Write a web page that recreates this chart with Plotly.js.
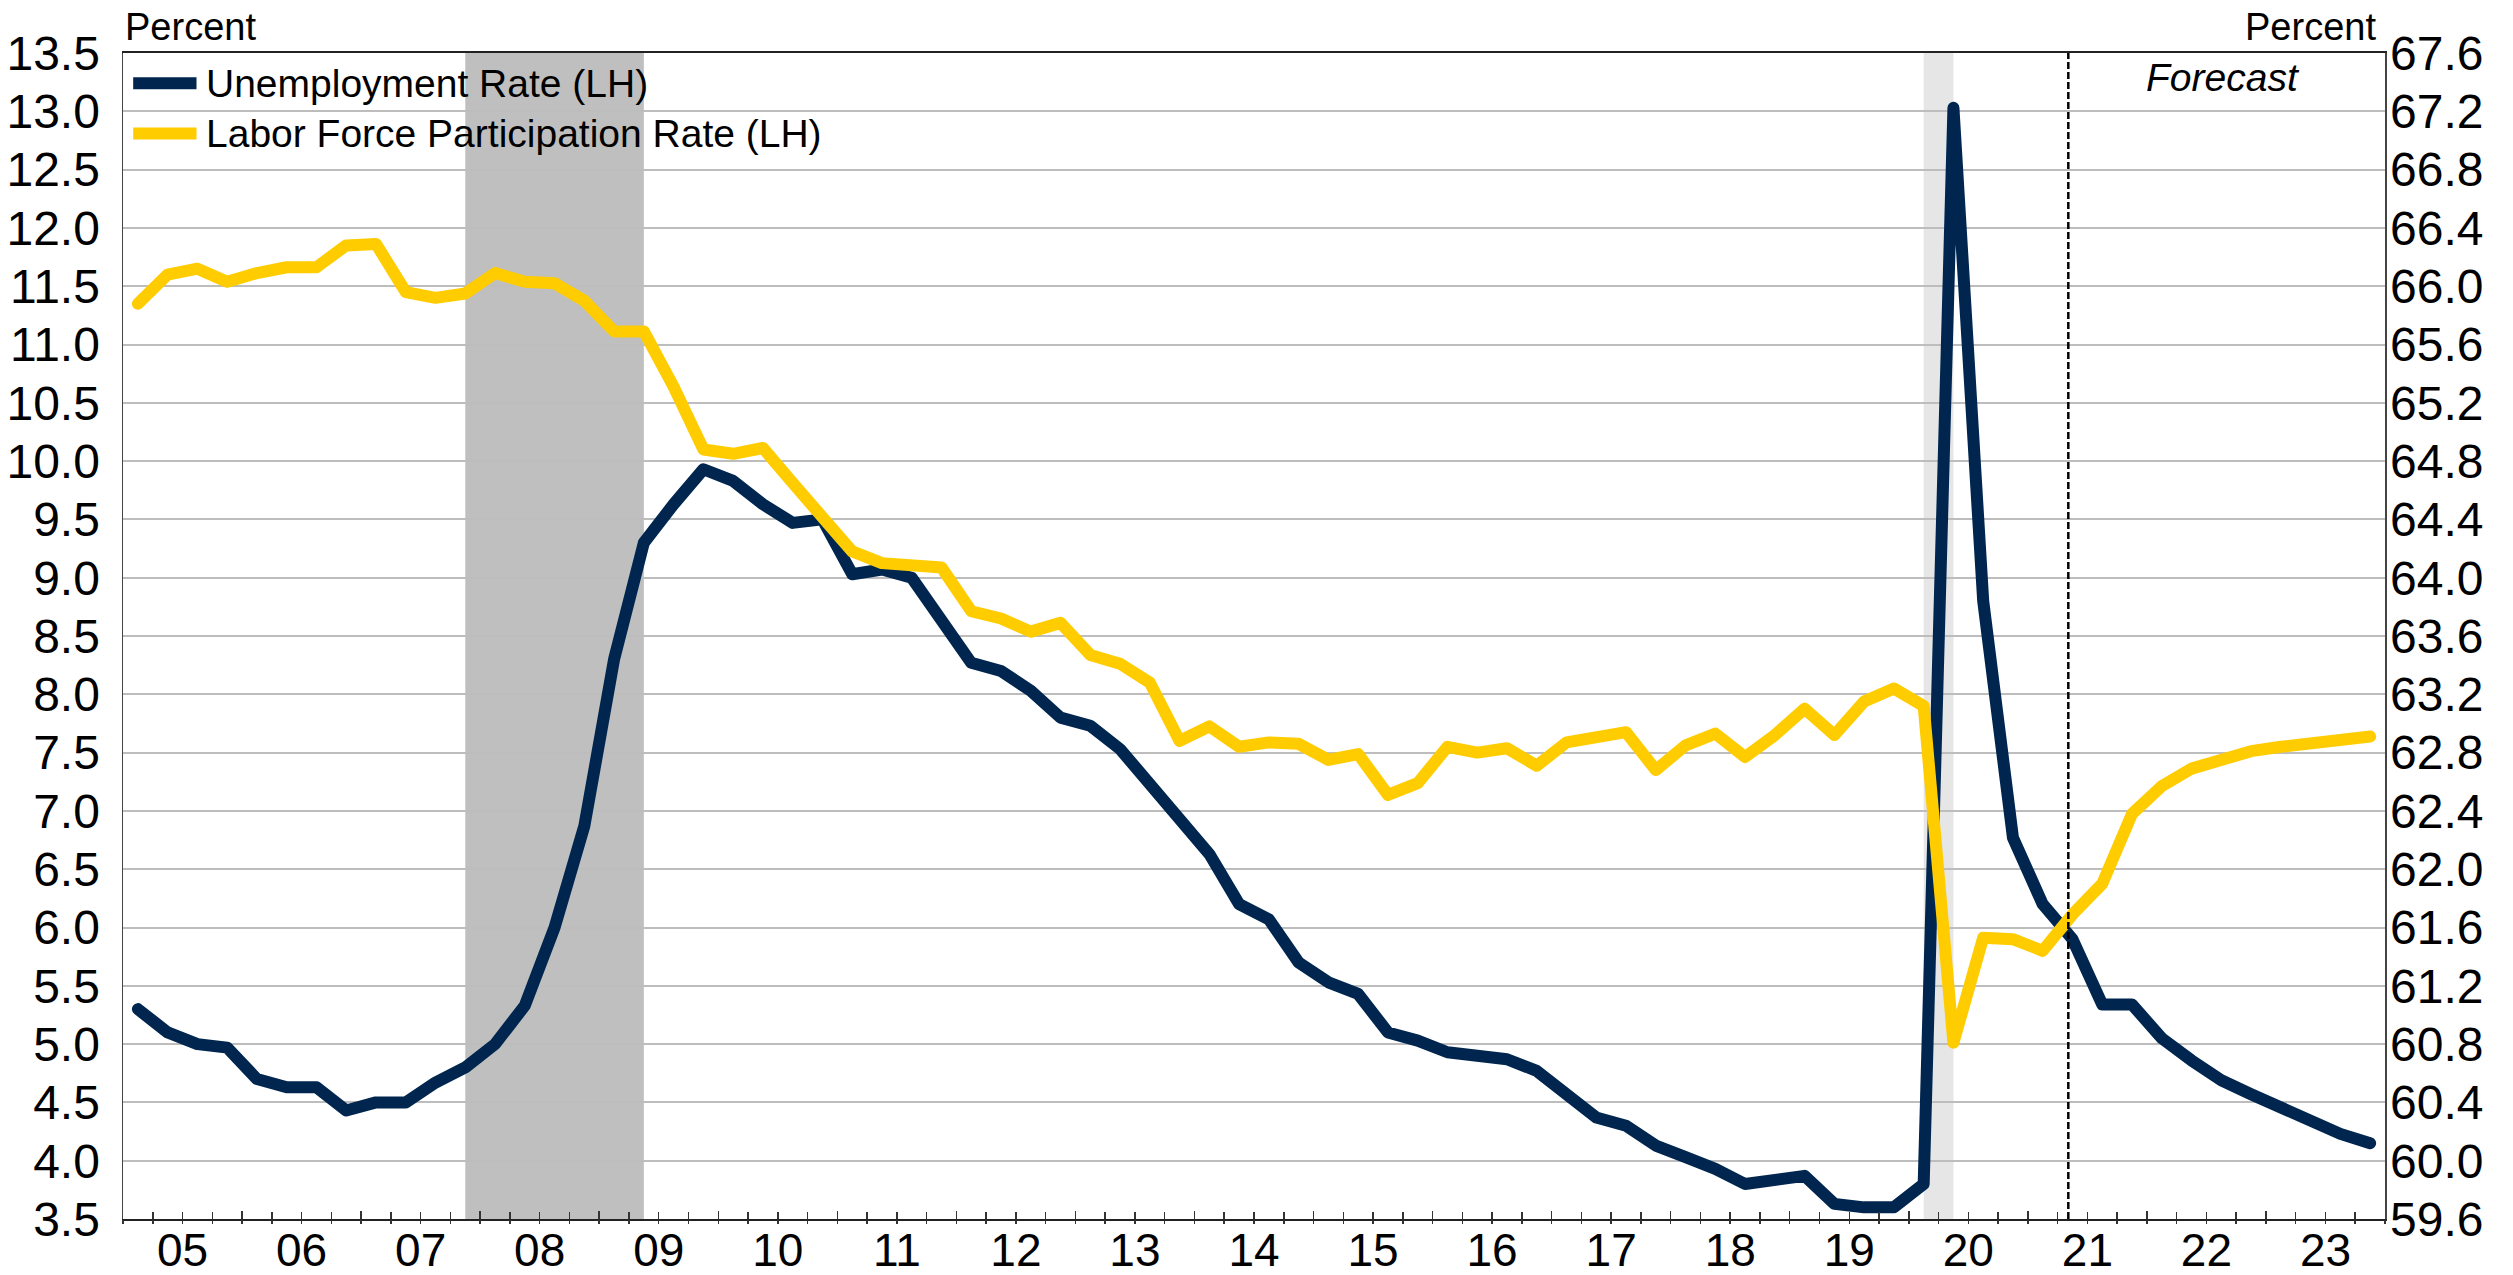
<!DOCTYPE html>
<html>
<head>
<meta charset="utf-8">
<script src="https://cdn.plot.ly/plotly-3.0.1.min.js"></script>
<style>
  html, body { margin: 0; padding: 0; background: #ffffff; }
  #chart { width: 2513px; height: 1275px; }
  path.js-line { stroke-linejoin: round; stroke-linecap: round; }
</style>
</head>
<body>
<div id="chart"></div>
<script>
// ---------------- DATA ----------------
const startYear = 2005;
const endYear = 2023;

// Quarterly unemployment rate, percent (left axis), 2005Q1 - 2023Q4
const unemploymentRate = [
  5.3, 5.1, 5.0, 4.97,
  4.7, 4.63, 4.63, 4.43,
  4.5, 4.5, 4.67, 4.8,
  5.0, 5.33, 6.0, 6.87,
  8.3, 9.3, 9.63, 9.93,
  9.83, 9.63, 9.47, 9.5,
  9.03, 9.07, 9.0, 8.63,
  8.27, 8.2, 8.03, 7.8,
  7.73, 7.53, 7.23, 6.93,
  6.63, 6.2, 6.07, 5.7,
  5.53, 5.43, 5.1, 5.03,
  4.93, 4.9, 4.87, 4.77,
  4.57, 4.37, 4.3, 4.13,
  4.03, 3.93, 3.8, 3.83,
  3.87, 3.63, 3.6, 3.6,
  3.8, 13.03, 8.8, 6.77,
  6.2, 5.9, 5.34, 5.34,
  5.05, 4.86, 4.69, 4.57,
  4.46, 4.34, 4.23, 4.15
];

// Quarterly labor force participation rate, percent (right axis)
const participationRate = [
  65.88, 66.08, 66.12, 66.03,
  66.09, 66.13, 66.13, 66.28,
  66.29, 65.96, 65.92, 65.95,
  66.09, 66.03, 66.02, 65.9,
  65.69, 65.69, 65.31, 64.88,
  64.85, 64.89, 64.65, 64.42,
  64.18, 64.1, 64.09, 64.07,
  63.77, 63.72, 63.63, 63.69,
  63.47, 63.41, 63.28, 62.88,
  62.98, 62.84, 62.87, 62.86,
  62.75, 62.79, 62.51, 62.59,
  62.84, 62.8, 62.83, 62.71,
  62.87, 62.9, 62.94, 62.68,
  62.85, 62.93, 62.77, 62.92,
  63.1, 62.92, 63.15, 63.24,
  63.12, 60.81, 61.53, 61.52,
  61.44, 61.69, 61.9, 62.38,
  62.57, 62.69, 62.76, 62.81,
  62.84, 62.86, 62.88, 62.91
];

const seriesNames = ['Unemployment Rate (LH)', 'Labor Force Participation Rate (LH)'];
const seriesColors = ['#00264f', '#ffcc00'];

const yearLabels = ['05','06','07','08','09','10','11','12','13','14','15','16','17','18','19','20','21','22','23'];

const leftTicks = [3.5,4.0,4.5,5.0,5.5,6.0,6.5,7.0,7.5,8.0,8.5,9.0,9.5,10.0,10.5,11.0,11.5,12.0,12.5,13.0,13.5];
const rightTicks = [59.6,60.0,60.4,60.8,61.2,61.6,62.0,62.4,62.8,63.2,63.6,64.0,64.4,64.8,65.2,65.6,66.0,66.4,66.8,67.2,67.6];

// Shaded periods (quarter labels) and forecast start
const recessions = [
  { start: '2007Q4', end: '2009Q2', color: '#bfbfbf' },
  { start: '2020Q1', end: '2020Q2', color: '#e6e6e6' }
];
const forecastStart = 2021.34;
const forecastLabel = 'Forecast';
const axisUnit = 'Percent';

// ---------------- BUILD ----------------
const quarterLabels = [];
for (let y = startYear; y <= endYear; y++) for (let q = 1; q <= 4; q++) quarterLabels.push(y + 'Q' + q);
const qToX = lbl => parseInt(lbl.slice(0, 4), 10) + (parseInt(lbl.slice(5), 10) - 0.5) / 4;
const xVals = quarterLabels.map(qToX);

const yearBounds = [];
for (let y = startYear; y <= endYear + 1; y++) yearBounds.push(y);
const yearCenters = yearLabels.map((_, i) => startYear + i + 0.5);

const xRange = [startYear, endYear + 1];
const FONT = 'Liberation Sans, Arial, Helvetica, sans-serif';
const TICK = 48;

const traces = [
  {
    x: xVals, y: unemploymentRate, name: seriesNames[0],
    type: 'scatter', mode: 'lines', xaxis: 'x', yaxis: 'y',
    line: { color: seriesColors[0], width: 12 }, showlegend: false
  },
  {
    x: xVals, y: participationRate, name: seriesNames[1],
    type: 'scatter', mode: 'lines', xaxis: 'x', yaxis: 'y2',
    line: { color: seriesColors[1], width: 12 }, showlegend: false
  },
  { x: [], y: [], xaxis: 'x2', yaxis: 'y', type: 'scatter', mode: 'lines', showlegend: false, hoverinfo: 'skip' },
  { x: [], y: [], xaxis: 'x3', yaxis: 'y', type: 'scatter', mode: 'lines', showlegend: false, hoverinfo: 'skip' }
];

const shapes = recessions.map(r => ({
  type: 'rect', xref: 'x', yref: 'paper',
  x0: qToX(r.start), x1: qToX(r.end), y0: 0, y1: 1,
  fillcolor: r.color, line: { width: 0 }, layer: 'below'
}));
shapes.push({
  type: 'line', xref: 'x', yref: 'paper',
  x0: forecastStart, x1: forecastStart, y0: 0, y1: 1,
  line: { color: '#000000', width: 2.5, dash: '7px,3px' }, layer: 'above'
});

// custom legend samples
const legendY = [0.974, 0.931];
seriesNames.forEach((n, i) => {
  shapes.push({
    type: 'line', xref: 'paper', yref: 'paper',
    x0: 0.0045, x1: 0.0325, y0: legendY[i], y1: legendY[i],
    line: { color: seriesColors[i], width: 12 }, layer: 'above'
  });
});

const annotations = [
  { xref: 'paper', yref: 'paper', x: 0, y: 1.003, xanchor: 'left', yanchor: 'bottom',
    text: axisUnit, showarrow: false, font: { family: FONT, size: 38, color: '#000' } },
  { xref: 'paper', yref: 'paper', x: 0.997, y: 1.003, xanchor: 'right', yanchor: 'bottom',
    text: axisUnit, showarrow: false, font: { family: FONT, size: 38, color: '#000' } },
  { xref: 'x', yref: 'paper', x: 2022.64, y: 0.979, xanchor: 'center', yanchor: 'middle',
    text: '<i>' + forecastLabel + '</i>', showarrow: false, font: { family: FONT, size: 39, color: '#000' } }
];
seriesNames.forEach((n, i) => {
  annotations.push({
    xref: 'paper', yref: 'paper', x: 0.036, y: legendY[i], xanchor: 'left', yanchor: 'middle',
    text: n, showarrow: false, font: { family: FONT, size: 39, color: '#000' }
  });
});

const layout = {
  width: 2513, height: 1275,
  margin: { l: 123, r: 128, t: 53, b: 56, pad: 0 },
  paper_bgcolor: '#ffffff', plot_bgcolor: '#ffffff',
  font: { family: FONT, size: TICK, color: '#000000' },
  showlegend: false,
  xaxis: {
    range: xRange, tickmode: 'array', tickvals: yearBounds,
    ticks: 'inside', ticklen: 8, tickwidth: 1.5, tickcolor: '#333333',
    showticklabels: false, showgrid: false, zeroline: false,
    showline: true, linecolor: '#222222', linewidth: 2, mirror: true,
    minor: { tickmode: 'linear', tick0: startYear, dtick: 0.25, ticks: 'inside', ticklen: 7, tickwidth: 1.5, tickcolor: '#333333', showgrid: false },
    fixedrange: true, automargin: false
  },
  xaxis2: {
    overlaying: 'x', anchor: 'y', side: 'bottom', range: xRange,
    tickmode: 'linear', tick0: startYear, dtick: 0.25,
    ticks: 'outside', ticklen: 4, tickwidth: 1.5, tickcolor: '#333333',
    showticklabels: false, showgrid: false, zeroline: false, showline: false,
    fixedrange: true, automargin: false
  },
  xaxis3: {
    overlaying: 'x', anchor: 'y', side: 'bottom', range: xRange,
    tickmode: 'array', tickvals: yearCenters, ticktext: yearLabels,
    ticks: '', showgrid: false, zeroline: false, showline: false,
    tickfont: { family: FONT, size: 46, color: '#000' },
    fixedrange: true, automargin: false
  },
  yaxis: {
    range: [3.5, 13.5], tickmode: 'array', tickvals: leftTicks,
    ticktext: leftTicks.map(v => v.toFixed(1)),
    ticks: '', showgrid: true, gridcolor: '#bdbdbd', gridwidth: 2,
    zeroline: false, showline: true, linecolor: '#444444', linewidth: 1.5, mirror: true,
    tickfont: { family: FONT, size: TICK, color: '#000' },
    ticklabelstandoff: 12,
    fixedrange: true, automargin: false
  },
  yaxis2: {
    overlaying: 'y', side: 'right', anchor: 'x', range: [59.6, 67.6],
    tickmode: 'array', tickvals: rightTicks, ticktext: rightTicks.map(v => v.toFixed(1)),
    ticks: '', showgrid: false, zeroline: false, showline: false,
    tickfont: { family: FONT, size: TICK, color: '#000' },
    ticklabelstandoff: 4,
    fixedrange: true, automargin: false
  },
  shapes: shapes,
  annotations: annotations
};

Plotly.newPlot('chart', traces, layout, { staticPlot: true, displayModeBar: false });
</script>
</body>
</html>
